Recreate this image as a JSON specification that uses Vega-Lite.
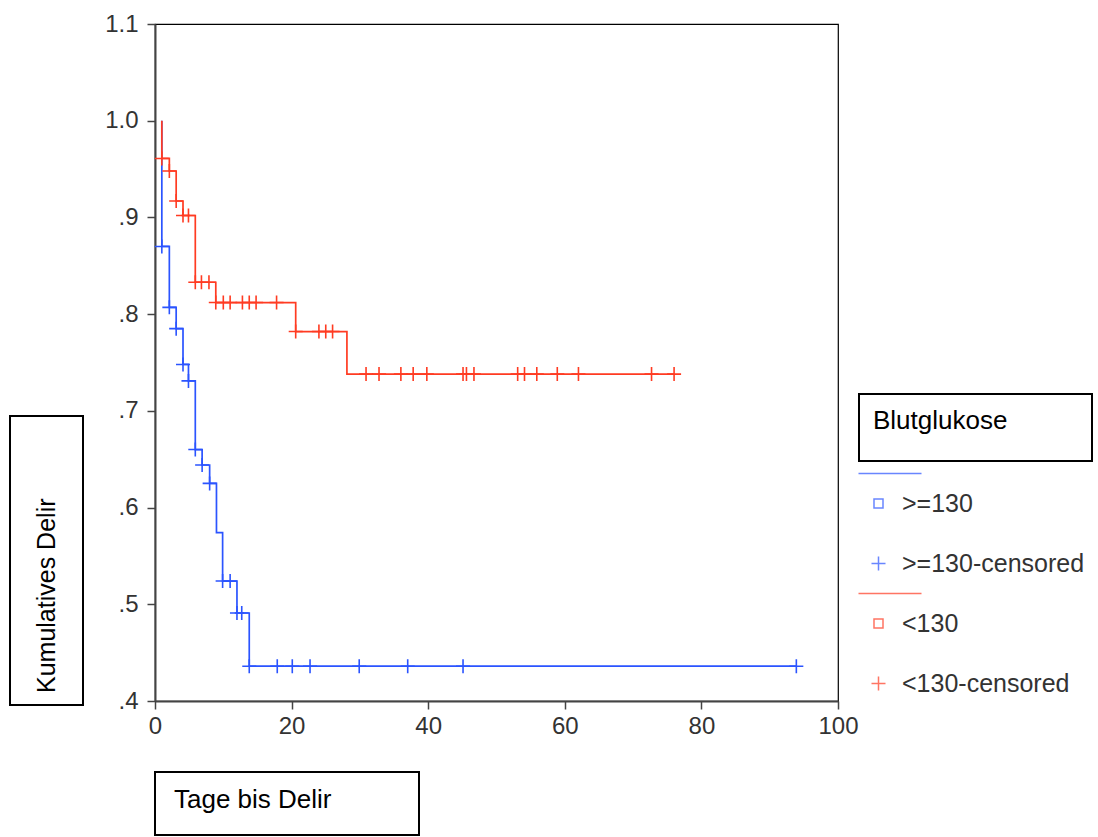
{
  "$schema": "https://vega.github.io/schema/vega-lite/v6.json",
  "background": "white",
  "padding": {"left": 9, "top": 11, "right": 0, "bottom": 0},
  "config": {
    "font": "Liberation Sans",
    "view": {"stroke": null},
    "title": {"fontWeight": "normal", "color": "black", "fontSize": 26, "font": "Liberation Sans"},
    "axis": {
      "grid": false,
      "domainColor": "#444444",
      "domainWidth": 2,
      "tickColor": "#444444",
      "tickWidth": 1.5,
      "tickSize": 8,
      "labelFontSize": 24,
      "labelColor": "#333333",
      "labelFont": "Liberation Sans",
      "labelOverlap": false
    }
  },
  "datasets": {
    "steps": [
      {"Blutglukose": ">=130", "day": 1.0, "surv": 1.0},
      {"Blutglukose": ">=130", "day": 1.0, "surv": 0.870},
      {"Blutglukose": ">=130", "day": 2.1, "surv": 0.807},
      {"Blutglukose": ">=130", "day": 3.1, "surv": 0.785},
      {"Blutglukose": ">=130", "day": 4.1, "surv": 0.748},
      {"Blutglukose": ">=130", "day": 4.9, "surv": 0.731},
      {"Blutglukose": ">=130", "day": 5.9, "surv": 0.660},
      {"Blutglukose": ">=130", "day": 6.9, "surv": 0.644},
      {"Blutglukose": ">=130", "day": 8.0, "surv": 0.625},
      {"Blutglukose": ">=130", "day": 9.0, "surv": 0.574},
      {"Blutglukose": ">=130", "day": 9.9, "surv": 0.524},
      {"Blutglukose": ">=130", "day": 12.0, "surv": 0.491},
      {"Blutglukose": ">=130", "day": 13.8, "surv": 0.436},
      {"Blutglukose": ">=130", "day": 93.9, "surv": 0.436},
      {"Blutglukose": "<130", "day": 1.0, "surv": 1.0},
      {"Blutglukose": "<130", "day": 1.0, "surv": 0.961},
      {"Blutglukose": "<130", "day": 2.1, "surv": 0.948},
      {"Blutglukose": "<130", "day": 3.1, "surv": 0.917},
      {"Blutglukose": "<130", "day": 4.1, "surv": 0.902},
      {"Blutglukose": "<130", "day": 5.9, "surv": 0.833},
      {"Blutglukose": "<130", "day": 8.9, "surv": 0.812},
      {"Blutglukose": "<130", "day": 20.6, "surv": 0.782},
      {"Blutglukose": "<130", "day": 28.1, "surv": 0.738},
      {"Blutglukose": "<130", "day": 76.0, "surv": 0.738}
    ],
    "censored": [
      {"Blutglukose": ">=130-censored", "day": 1.0, "surv": 0.870},
      {"Blutglukose": ">=130-censored", "day": 2.1, "surv": 0.807},
      {"Blutglukose": ">=130-censored", "day": 3.1, "surv": 0.785},
      {"Blutglukose": ">=130-censored", "day": 4.1, "surv": 0.748},
      {"Blutglukose": ">=130-censored", "day": 4.9, "surv": 0.731},
      {"Blutglukose": ">=130-censored", "day": 5.9, "surv": 0.660},
      {"Blutglukose": ">=130-censored", "day": 6.9, "surv": 0.644},
      {"Blutglukose": ">=130-censored", "day": 8.0, "surv": 0.625},
      {"Blutglukose": ">=130-censored", "day": 9.9, "surv": 0.524},
      {"Blutglukose": ">=130-censored", "day": 11.0, "surv": 0.524},
      {"Blutglukose": ">=130-censored", "day": 12.0, "surv": 0.491},
      {"Blutglukose": ">=130-censored", "day": 12.7, "surv": 0.491},
      {"Blutglukose": ">=130-censored", "day": 13.8, "surv": 0.436},
      {"Blutglukose": ">=130-censored", "day": 17.9, "surv": 0.436},
      {"Blutglukose": ">=130-censored", "day": 20.1, "surv": 0.436},
      {"Blutglukose": ">=130-censored", "day": 22.7, "surv": 0.436},
      {"Blutglukose": ">=130-censored", "day": 29.9, "surv": 0.436},
      {"Blutglukose": ">=130-censored", "day": 37.0, "surv": 0.436},
      {"Blutglukose": ">=130-censored", "day": 45.1, "surv": 0.436},
      {"Blutglukose": ">=130-censored", "day": 93.9, "surv": 0.436},
      {"Blutglukose": "<130-censored", "day": 1.0, "surv": 0.961},
      {"Blutglukose": "<130-censored", "day": 2.1, "surv": 0.948},
      {"Blutglukose": "<130-censored", "day": 3.1, "surv": 0.917},
      {"Blutglukose": "<130-censored", "day": 4.1, "surv": 0.902},
      {"Blutglukose": "<130-censored", "day": 4.9, "surv": 0.902},
      {"Blutglukose": "<130-censored", "day": 5.9, "surv": 0.833},
      {"Blutglukose": "<130-censored", "day": 6.8, "surv": 0.833},
      {"Blutglukose": "<130-censored", "day": 7.9, "surv": 0.833},
      {"Blutglukose": "<130-censored", "day": 8.9, "surv": 0.812},
      {"Blutglukose": "<130-censored", "day": 10.0, "surv": 0.812},
      {"Blutglukose": "<130-censored", "day": 11.0, "surv": 0.812},
      {"Blutglukose": "<130-censored", "day": 12.8, "surv": 0.812},
      {"Blutglukose": "<130-censored", "day": 13.8, "surv": 0.812},
      {"Blutglukose": "<130-censored", "day": 14.8, "surv": 0.812},
      {"Blutglukose": "<130-censored", "day": 17.8, "surv": 0.812},
      {"Blutglukose": "<130-censored", "day": 20.6, "surv": 0.782},
      {"Blutglukose": "<130-censored", "day": 24.0, "surv": 0.782},
      {"Blutglukose": "<130-censored", "day": 25.0, "surv": 0.782},
      {"Blutglukose": "<130-censored", "day": 26.0, "surv": 0.782},
      {"Blutglukose": "<130-censored", "day": 30.9, "surv": 0.738},
      {"Blutglukose": "<130-censored", "day": 32.8, "surv": 0.738},
      {"Blutglukose": "<130-censored", "day": 36.0, "surv": 0.738},
      {"Blutglukose": "<130-censored", "day": 37.8, "surv": 0.738},
      {"Blutglukose": "<130-censored", "day": 39.8, "surv": 0.738},
      {"Blutglukose": "<130-censored", "day": 45.1, "surv": 0.738},
      {"Blutglukose": "<130-censored", "day": 45.6, "surv": 0.738},
      {"Blutglukose": "<130-censored", "day": 46.7, "surv": 0.738},
      {"Blutglukose": "<130-censored", "day": 53.1, "surv": 0.738},
      {"Blutglukose": "<130-censored", "day": 54.1, "surv": 0.738},
      {"Blutglukose": "<130-censored", "day": 55.9, "surv": 0.738},
      {"Blutglukose": "<130-censored", "day": 58.9, "surv": 0.738},
      {"Blutglukose": "<130-censored", "day": 62.0, "surv": 0.738},
      {"Blutglukose": "<130-censored", "day": 72.7, "surv": 0.738},
      {"Blutglukose": "<130-censored", "day": 76.0, "surv": 0.738}
    ]
  },
  "spacing": 32,
  "vconcat": [
    {
      "spacing": -17,
      "hconcat": [
        {
          "spacing": 0,
          "vconcat": [
            {"data": {"values": []}, "mark": "point", "width": 111, "height": 391},
            {
              "data": {"values": []}, "mark": "point", "width": 73, "height": 289,
              "view": {"stroke": "black", "strokeWidth": 2},
              "title": {"text": "Kumulatives Delir", "orient": "left", "anchor": "start", "frame": "group", "offset": -70, "baseline": "alphabetic", "dx": 12, "fontSize": 25}
            }
          ]
        },
        {
          "width": 683,
          "height": 677,
          "view": {"stroke": "black", "strokeWidth": 1.2},
          "encoding": {
            "x": {
              "field": "day", "type": "quantitative",
              "scale": {"domain": [0, 100], "nice": false},
              "axis": {"title": null, "values": [0, 20, 40, 60, 80, 100], "labelPadding": 5, "labelFlush": false}
            },
            "y": {
              "field": "surv", "type": "quantitative",
              "scale": {"domain": [0.4, 1.1], "nice": false, "zero": false},
              "axis": {
                "title": null,
                "values": [0.4, 0.5, 0.6, 0.7, 0.8, 0.9, 1.0, 1.1],
                "labelPadding": 9,
                "labelFlush": false,
                "labelExpr": "datum.value < 0.95 ? substring(format(datum.value, '.1f'), 1) : format(datum.value, '.1f')"
              }
            },
            "color": {
              "field": "Blutglukose", "type": "nominal",
              "scale": {
                "domain": [">=130", ">=130-censored", "<130", "<130-censored"],
                "range": ["#2b54ff", "#2b54ff", "#ff3b22", "#ff3b22"]
              },
              "legend": null
            }
          },
          "layer": [
            {
              "data": {"name": "steps"},
              "mark": {"type": "line", "interpolate": "step-after", "strokeWidth": 1.7},
              "encoding": {"order": {"value": null}}
            },
            {
              "data": {"name": "censored"},
              "mark": {"type": "point", "filled": false, "shape": "M-1,0H1M0,-1V1", "size": 196, "strokeWidth": 1.6, "opacity": 1}
            }
          ]
        },
        {
          "spacing": 0,
          "vconcat": [
            {"data": {"values": []}, "mark": "point", "width": 233, "height": 369},
            {
              "data": {"values": []},
              "mark": {"type": "point", "filled": false},
              "width": 233, "height": 67,
              "view": {"stroke": "black", "strokeWidth": 2},
              "title": {"text": "Blutglukose", "orient": "top", "anchor": "start", "frame": "group", "offset": -61, "baseline": "alphabetic", "dx": 14, "fontSize": 26},
              "encoding": {
                "stroke": {
                  "field": "Blutglukose", "type": "nominal",
                  "scale": {
                    "domain": ["_bl", ">=130", "_bg", ">=130-censored", "_rl", "<130", "_rg", "<130-censored"],
                    "range": ["#2b54ff", "#2b54ff", "transparent", "#2b54ff", "#ff3b22", "#ff3b22", "transparent", "#ff3b22"]
                  },
                  "legend": {
                    "title": null, "orient": "none", "legendX": 856, "legendY": 437,
                    "symbolSize": 196, "symbolStrokeWidth": 1.5,
                    "labelFontSize": 25, "labelFont": "Liberation Sans", "labelColor": "#333333", "labelLimit": 400,
                    "labelOffset": 11, "rowPadding": 4, "padding": 0, "gridAlign": "all",
                    "labelExpr": "substring(datum.label, 0, 1) === '_' ? ' ' : datum.label"
                  }
                },
                "shape": {
                  "field": "Blutglukose", "type": "nominal",
                  "scale": {
                    "domain": ["_bl", ">=130", "_bg", ">=130-censored", "_rl", "<130", "_rg", "<130-censored"],
                    "range": ["M-2.857,0H6.143", "M-0.643,-0.643H0.643V0.643H-0.643Z", "M0,0", "M-1,0H1M0,-1V1", "M-2.857,0H6.143", "M-0.643,-0.643H0.643V0.643H-0.643Z", "M0,0", "M-1,0H1M0,-1V1"]
                  },
                  "legend": {
                    "title": null, "orient": "none", "legendX": 856, "legendY": 437,
                    "symbolSize": 196, "symbolStrokeWidth": 1.5,
                    "labelFontSize": 25, "labelFont": "Liberation Sans", "labelColor": "#333333", "labelLimit": 400,
                    "labelOffset": 11, "rowPadding": 4, "padding": 0, "gridAlign": "all",
                    "labelExpr": "substring(datum.label, 0, 1) === '_' ? ' ' : datum.label"
                  }
                }
              }
            }
          ]
        }
      ]
    },
    {
      "bounds": "flush",
      "spacing": 0,
      "hconcat": [
        {"data": {"values": []}, "mark": "point", "width": 145, "height": 1},
        {
          "data": {"values": []}, "mark": "point", "width": 264, "height": 63,
          "view": {"stroke": "black", "strokeWidth": 2},
          "title": {"text": "Tage bis Delir", "orient": "top", "anchor": "start", "frame": "group", "offset": -62, "baseline": "alphabetic", "dx": 19, "fontSize": 26}
        }
      ]
    }
  ]
}
